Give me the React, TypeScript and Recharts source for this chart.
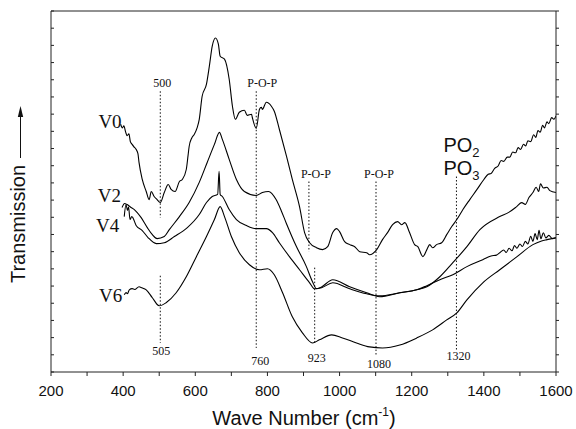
import React from "react";
import { LineChart, Line, XAxis, YAxis, ReferenceLine } from "recharts";

// wave numbers (cm-1) and transmission (arbitrary units)
const v0Wave = [393, 398, 402, 407, 411, 416, 420, 425, 430, 436, 441, 444, 453, 464, 472, 478, 486, 493, 503, 514, 525, 533, 544, 556, 564, 575, 580, 583, 590, 597, 605, 611, 619, 631, 639, 647, 656, 664, 669, 681, 694, 703, 711, 722, 736, 744, 756, 758, 769, 778, 783, 786, 797, 811, 819, 833, 853, 869, 889, 903, 917, 936, 953, 967, 981, 992, 1000, 1014, 1028, 1042, 1056, 1075, 1083, 1103, 1119, 1133, 1147, 1161, 1172, 1181, 1194, 1208, 1217, 1231, 1242, 1250, 1258, 1269, 1283, 1297, 1311, 1325, 1342, 1361, 1381, 1400, 1412, 1420, 1430, 1440, 1448, 1455, 1465, 1472, 1480, 1488, 1495, 1502, 1510, 1516, 1522, 1530, 1538, 1544, 1550, 1556, 1563, 1568, 1575, 1580, 1588, 1594, 1600];
const v0Trans = [14.41, 14.2, 14.32, 13.95, 13.75, 13.85, 13.4, 13.24, 13.1, 12.95, 12.7, 12.19, 11.2, 10.5, 10.03, 10.5, 10.21, 10.05, 9.86, 10.44, 10.91, 10.62, 10.5, 11.08, 11.2, 11.78, 12.6, 13.12, 13.6, 13.82, 14.2, 14.7, 16.04, 16.74, 17.79, 18.96, 19.43, 19.07, 18.37, 18.2, 17.03, 15.46, 14.7, 15.11, 15.23, 14.93, 14.99, 14.82, 14.17, 15.28, 15.4, 15.28, 15.69, 15.46, 15.17, 14.12, 12.54, 11.2, 9.62, 8.11, 7.52, 7.23, 7.12, 7.29, 8.11, 8.34, 8.17, 7.58, 7.41, 7.29, 7.0, 6.94, 6.82, 7.12, 7.7, 8.11, 8.57, 8.75, 8.57, 8.69, 8.11, 7.41, 7.29, 6.71, 7.12, 7.41, 7.23, 7.41, 7.52, 7.99, 8.46, 8.87, 9.45, 10.03, 10.62, 11.2, 11.5, 11.55, 11.85, 12.0, 12.3, 12.25, 12.5, 12.5, 12.8, 12.75, 13.05, 12.95, 13.25, 13.15, 13.45, 13.4, 13.8, 13.65, 14.05, 13.95, 14.35, 14.2, 14.55, 14.45, 14.8, 14.7, 14.9];

const v2Wave = [397, 404, 411, 420, 431, 450, 467, 481, 494, 514, 528, 556, 583, 611, 633, 653, 667, 675, 694, 714, 736, 769, 786, 803, 824, 838, 852, 880, 908, 925, 936, 950, 981, 1028, 1075, 1111, 1167, 1214, 1242, 1278, 1314, 1353, 1389, 1444, 1470, 1491, 1505, 1515, 1525, 1536, 1545, 1552, 1557, 1565, 1575, 1583, 1600];
const v2Trans = [9.57, 9.8, 9.74, 9.6, 9.45, 8.98, 8.4, 7.99, 7.76, 7.88, 8.28, 9.04, 9.86, 11.03, 12.19, 13.24, 13.94, 13.53, 12.37, 11.2, 10.5, 10.27, 10.44, 10.5, 10.03, 9.4, 8.67, 7.31, 6.13, 5.25, 4.85, 4.95, 5.37, 4.96, 4.61, 4.38, 4.61, 4.78, 4.96, 5.54, 6.36, 7.29, 8.28, 9.04, 9.3, 9.62, 9.85, 9.75, 10.15, 10.44, 10.75, 10.5, 10.95, 10.7, 10.75, 10.55, 10.44];

const v4Wave = [403, 408, 412, 415, 419, 424, 428, 436, 453, 469, 492, 514, 542, 578, 611, 631, 647, 662, 666, 669, 675, 694, 714, 742, 769, 797, 814, 833, 861, 889, 917, 931, 950, 981, 1028, 1075, 1111, 1167, 1214, 1242, 1278, 1314, 1353, 1397, 1420, 1435, 1444, 1455, 1462, 1470, 1478, 1485, 1492, 1500, 1507, 1515, 1522, 1530, 1536, 1542, 1548, 1553, 1558, 1565, 1572, 1580, 1590, 1600];
const v4Trans = [9.04, 9.74, 9.4, 9.6, 8.87, 9.05, 8.93, 8.52, 8.23, 7.82, 7.47, 7.52, 7.88, 8.4, 9.16, 9.86, 10.21, 10.33, 11.67, 10.33, 10.21, 9.45, 8.87, 8.52, 8.34, 8.34, 8.11, 7.52, 6.71, 5.95, 5.19, 4.84, 4.9, 5.19, 4.84, 4.55, 4.43, 4.61, 4.78, 5.02, 5.37, 5.66, 6.13, 6.53, 6.75, 6.8, 6.94, 7.1, 6.95, 7.2, 7.05, 7.35, 7.2, 7.45, 7.3, 7.6, 7.45, 7.9, 7.6, 8.05, 7.7, 8.25, 7.75, 8.1, 7.8, 7.95, 7.75, 7.8];

const v6Wave = [403, 408, 412, 417, 425, 432, 444, 452, 464, 481, 500, 519, 547, 575, 603, 631, 653, 669, 681, 700, 722, 750, 778, 800, 819, 842, 869, 897, 925, 944, 978, 1008, 1047, 1083, 1119, 1167, 1214, 1258, 1297, 1325, 1353, 1397, 1444, 1492, 1536, 1560, 1575, 1600];
const v6Trans = [4.49, 4.62, 4.55, 4.78, 4.85, 4.8, 4.96, 4.9, 4.78, 4.32, 3.85, 4.03, 4.61, 5.54, 6.71, 7.88, 8.87, 9.62, 9.04, 7.88, 6.94, 6.24, 5.95, 6.01, 5.66, 4.61, 3.21, 2.28, 1.69, 1.87, 2.16, 1.98, 1.69, 1.46, 1.4, 1.57, 1.98, 2.45, 3.03, 3.44, 4.2, 5.19, 5.95, 6.71, 7.41, 7.62, 7.7, 7.82];

// dotted band markers
const markWave = [503, 503, 769, 915, 931, 1101, 1324];
const markTop = [16.33, 5.6, 16.33, 11.08, 6.07, 11.08, 11.37];
const markBottom = [8.98, 1.69, 1.4, 7.0, 1.69, 0.93, 1.28];
const markTopText = ["500", "", "P-O-P", "P-O-P", "", "P-O-P", "PO"];
const markBottomText = ["", "505", "760", "", "923", "1080", "1320"];

const xTicks = [200, 300, 400, 500, 600, 700, 800, 900, 1000, 1100, 1200, 1300, 1400, 1500, 1600];
const yTicks = Array.from({ length: 22 }, (_, i) => i);

const toPoints = (w: number[], t: number[]) => w.map((x, i) => ({ x, y: t[i] }));

const series = [
  { name: "V0", data: toPoints(v0Wave, v0Trans), dx: 1, dy: 4 },
  { name: "V2", data: toPoints(v2Wave, v2Trans), dx: -1, dy: -5 },
  { name: "V4", data: toPoints(v4Wave, v4Trans), dx: -5, dy: 15 },
  { name: "V6", data: toPoints(v6Wave, v6Trans), dx: -2, dy: 7 },
];

const topDx = [2, 0, 6, 7, 0, 3, 0];
const bottomDx = [0, 1, 4, 0, 2, 3, 2];
const bottomDy = [0, 12, 17, 0, 19, 12, 10];

const ink = "#111";
const serif = "'Liberation Serif', 'Times New Roman', serif";
const sans = "'Liberation Sans', Arial, sans-serif";

function MarkLabel({ viewBox, i }: { viewBox?: any; i: number }) {
  if (!viewBox) return null;
  const x = viewBox.x;
  const y = viewBox.y;
  const h = viewBox.height || 0;
  const top = markTopText[i];
  const bottom = markBottomText[i];
  if (top === "PO") {
    return (
      <g>
        <text x={x - 13} y={y - 25} fontSize={20} fontFamily={sans} fill={ink}>
          PO<tspan fontSize={13} dy={5}>2</tspan>
        </text>
        <text x={x - 13} y={y - 2} fontSize={20} fontFamily={sans} fill={ink}>
          PO<tspan fontSize={13} dy={5}>3</tspan>
        </text>
        <text x={x + bottomDx[i]} y={y + h + bottomDy[i]} fontFamily={serif} fontSize={12} fill={ink} textAnchor="middle">
          {bottom}
        </text>
      </g>
    );
  }
  return (
    <g>
      {top ? (
        <text x={x + topDx[i]} y={y - 4} textAnchor="middle" fontFamily={serif} fontSize={12} fill={ink}>
          {top}
        </text>
      ) : null}
      {bottom ? (
        <text x={x + bottomDx[i]} y={y + h + bottomDy[i]} textAnchor="middle" fontFamily={serif} fontSize={12} fill={ink}>
          {bottom}
        </text>
      ) : null}
    </g>
  );
}

const seriesLabel = (name: string, dx: number, dy: number) => (p: any) =>
  p.index === 0 ? (
    <text x={p.x + dx} y={p.y + dy} textAnchor="end" fontFamily={serif} fontSize={19} fill={ink}>
      {name}
    </text>
  ) : null;

export default function App() {
  return (
    <div style={{ position: "absolute", left: 0, top: 0, width: 576, height: 429, background: "#fff" }}>
      <LineChart width={576} height={429} margin={{ top: 11, right: 19, bottom: 27, left: 51 }}>
        <XAxis
          dataKey="x"
          type="number"
          domain={[200, 1600]}
          ticks={xTicks}
          interval={0}
          allowDataOverflow
          tickFormatter={(v: number) => (v % 200 === 0 ? String(v) : "")}
          tickSize={4}
          tickMargin={9}
          height={30}
          stroke="#222"
          tick={{ fill: ink, fontSize: 15, fontFamily: sans }}
        />
        <XAxis
          xAxisId="top"
          orientation="top"
          type="number"
          domain={[200, 1600]}
          ticks={xTicks}
          interval={0}
          allowDataOverflow
          tickFormatter={() => ""}
          mirror
          tickSize={3}
          height={1}
          stroke="#222"
        />
        <YAxis
          type="number"
          domain={[0, 21]}
          ticks={yTicks}
          interval={0}
          allowDataOverflow
          tickFormatter={() => ""}
          mirror
          tickSize={3}
          width={1}
          stroke="#222"
        />
        <YAxis
          yAxisId="right"
          orientation="right"
          type="number"
          domain={[0, 21]}
          ticks={yTicks}
          interval={0}
          allowDataOverflow
          tickFormatter={() => ""}
          tickSize={3}
          width={1}
          stroke="#222"
        />
        {markWave.map((x, i) => (
          <ReferenceLine
            key={"m" + i}
            segment={[
              { x, y: markTop[i] },
              { x, y: markBottom[i] },
            ]}
            stroke={ink}
            strokeDasharray="1.5 2"
            label={(p: any) => <MarkLabel viewBox={p.viewBox} i={i} />}
          />
        ))}
        {series.map((s) => (
          <Line
            key={s.name}
            name={s.name}
            data={s.data}
            dataKey="y"
            type="monotone"
            stroke="#000"
            strokeWidth={1.1}
            dot={false}
            isAnimationActive={false}
            label={seriesLabel(s.name, s.dx, s.dy)}
          />
        ))}
      </LineChart>
      <svg width={576} height={429} style={{ position: "absolute", left: 0, top: 0, pointerEvents: "none" }}>
        <text x={304} y={425} textAnchor="middle" fontFamily={sans} fontSize={20} fill={ink}>
          Wave Number (cm<tspan fontSize={12} dy={-9}>-1</tspan>
          <tspan dy={9}>)</tspan>
        </text>
        <text transform="translate(25,224) rotate(-90)" textAnchor="middle" fontFamily={sans} fontSize={20} fill={ink}>
          Transmission
        </text>
        <line x1={20.5} y1={158} x2={20.5} y2={114} stroke={ink} strokeWidth={1} />
        <path d="M20.5 106 L17.8 117 L23.2 117 Z" fill={ink} />
      </svg>
    </div>
  );
}
